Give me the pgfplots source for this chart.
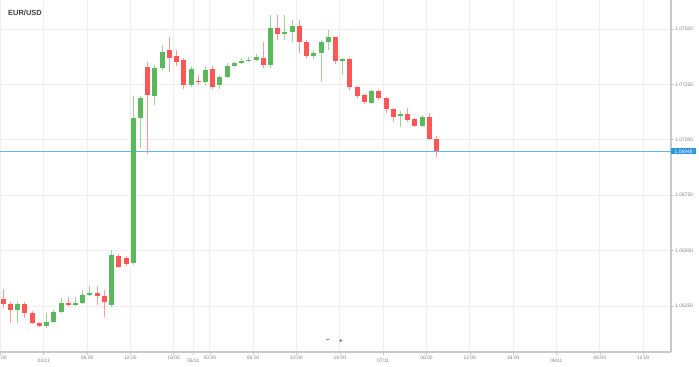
\documentclass[border=0pt]{standalone}
\usepackage{fontspec}
\setmainfont{Liberation Sans}
\usepackage{pgfplots}
\usepackage{pgfplotstable}
\pgfplotsset{compat=1.18}
\definecolor{cgreen}{RGB}{92,184,92}
\definecolor{cred}{RGB}{255,86,86}
\definecolor{pricecol}{RGB}{95,185,235}
\definecolor{pbox}{RGB}{45,150,220}
\definecolor{gridc}{RGB}{238,238,238}
\definecolor{axc}{RGB}{200,200,200}
\definecolor{labc}{RGB}{130,130,130}

\pgfplotstableread{
x o h l c
1 1.06282 1.06327 1.06241 1.06259
2 1.06259 1.06268 1.06174 1.06232
4 1.06259 1.06268 1.06196 1.06218
5 1.06218 1.06227 1.06169 1.06174
6 1.06174 1.06178 1.06155 1.06160
10 1.06263 1.06290 1.06250 1.06254
14 1.06309 1.06340 1.06254 1.06296
15 1.06296 1.06322 1.06200 1.06268
17 1.06476 1.06485 1.06421 1.06426
18 1.06467 1.06476 1.06430 1.06440
21 1.07330 1.07352 1.06936 1.07202
24 1.07405 1.07464 1.07307 1.07369
25 1.07378 1.07405 1.07333 1.07351
26 1.07360 1.07368 1.07229 1.07247
28 1.07267 1.07292 1.07247 1.07262
30 1.07319 1.07333 1.07229 1.07240
37 1.07368 1.07443 1.07323 1.07338
39 1.07503 1.07563 1.07450 1.07476
42 1.07515 1.07541 1.07390 1.07440
43 1.07440 1.07450 1.07368 1.07378
47 1.07463 1.07465 1.07342 1.07357
49 1.07363 1.07368 1.07225 1.07240
50 1.07237 1.07243 1.07190 1.07199
51 1.07202 1.07207 1.07163 1.07172
53 1.07222 1.07225 1.07180 1.07187
54 1.07187 1.07192 1.07121 1.07139
55 1.07138 1.07143 1.07082 1.07104
57 1.07115 1.07142 1.07082 1.07089
58 1.07092 1.07098 1.07059 1.07064
60 1.07104 1.07120 1.06999 1.07004
61 1.07004 1.07017 1.06921 1.06949
}\redt

\pgfplotstableread{
x o h l c
3 1.06232 1.06268 1.06174 1.06259
7 1.06160 1.06218 1.06151 1.06178
8 1.06178 1.06232 1.06174 1.06223
9 1.06223 1.06286 1.06218 1.06263
11 1.06254 1.06290 1.06250 1.06263
12 1.06263 1.06322 1.06259 1.06300
13 1.06300 1.06340 1.06296 1.06309
16 1.06254 1.06503 1.06245 1.06480
19 1.06444 1.07198 1.06435 1.07098
20 1.07098 1.07198 1.06963 1.07190
22 1.07199 1.07338 1.07157 1.07324
23 1.07324 1.07428 1.07315 1.07396
27 1.07247 1.07333 1.07238 1.07319
29 1.07262 1.07333 1.07247 1.07315
31 1.07247 1.07292 1.07229 1.07285
32 1.07285 1.07347 1.07280 1.07333
33 1.07333 1.07351 1.07328 1.07345
34 1.07345 1.07368 1.07342 1.07356
35 1.07356 1.07374 1.07351 1.07362
36 1.07362 1.07387 1.07356 1.07374
38 1.07338 1.07563 1.07323 1.07503
40 1.07476 1.07563 1.07450 1.07485
41 1.07485 1.07541 1.07443 1.07515
44 1.07378 1.07405 1.07363 1.07393
45 1.07390 1.07450 1.07262 1.07440
46 1.07440 1.07495 1.07405 1.07463
48 1.07357 1.07368 1.07292 1.07363
52 1.07165 1.07225 1.07160 1.07222
56 1.07107 1.07130 1.07059 1.07115
59 1.07064 1.07110 1.07059 1.07104
}\greent

\pgfplotstableread{
x p
0.543 1.06948
93.46 1.06948
}\pricet

\begin{document}
\begin{tikzpicture}
\begin{axis}[
  at={(0,0)}, anchor=north west,
  scale only axis, width=671bp, height=352bp,
  xmin=0.543, xmax=93.46, ymin=1.060423, ymax=1.076309,
  axis x line*=bottom, axis y line*=right,
  axis line style={axc, line width=1.3bp},
  clip=false,
  ytick={1.0625,1.065,1.0675,1.07,1.0725,1.075},
  yticklabels={1.06250,1.06500,1.06750,1.07000,1.07250,1.07500},
  xtick={0.6,6.6,12.6,18.6,24.6,27.3,29.6,35.6,41.6,47.6,53.6,59.6,65.6,71.6,77.6,83.6,89.6},
  xticklabels={18:00,{\mbox{}\\[1bp]03/11},06:00,12:00,18:00,{\mbox{}\\[1bp]05/11},00:00,06:00,12:00,18:00,{\mbox{}\\[1bp]07/11},06:00,12:00,18:00,{\mbox{}\\[1bp]08/11},06:00,12:00},
  xticklabel style={align=center, font=\fontsize{5}{5.5}\selectfont, text=labc, inner sep=1bp},
  yticklabel style={font=\fontsize{5}{6}\selectfont, text=labc, inner sep=1.5bp},
  tick align=outside, major tick length=2.5bp,
  tick style={axc, line width=0.6bp},
  grid=major, major grid style={gridc, line width=0.8bp},
]
% current price
\addplot[draw=pricecol, line width=1.4bp, mark=none, forget plot] table[x=x, y=p] {\pricet};
% wicks
\addplot[draw=none, no markers, forget plot, error bars/.cd, y dir=plus, y explicit, error mark=none,
  error bar style={draw=cred!60, line width=1bp, solid}]
  table[x=x, y=l, y error expr=\thisrow{h}-\thisrow{l}] {\redt};
\addplot[draw=none, no markers, forget plot, error bars/.cd, y dir=plus, y explicit, error mark=none,
  error bar style={draw=cgreen!60, line width=1bp, solid}]
  table[x=x, y=l, y error expr=\thisrow{h}-\thisrow{l}] {\greent};
% bodies
\addplot[draw=none, no markers, forget plot, error bars/.cd, y dir=plus, y explicit, error mark=none,
  error bar style={draw=cred, line width=5bp, solid}]
  table[x=x, y=c, y error expr=\thisrow{o}-\thisrow{c}] {\redt};
\addplot[draw=none, no markers, forget plot, error bars/.cd, y dir=plus, y explicit, error mark=none,
  error bar style={draw=cgreen, line width=5bp, solid}]
  table[x=x, y=o, y error expr=\thisrow{c}-\thisrow{o}] {\greent};
\node[anchor=west, fill=pbox, text=white, font=\fontsize{5}{6}\selectfont, inner sep=1.2bp, minimum width=25bp]
  at (axis cs:93.46,1.06948) {1.06948};
\node[anchor=west, font=\bfseries\fontsize{7.5}{9}\selectfont, text=black!75, inner sep=0pt]
  at (rel axis cs:0.0119,0.963) {EUR/USD};
\node[font=\fontsize{7}{8}\selectfont\bfseries, text=black!60, inner sep=0pt] at (rel axis cs:0.4888,0.031) {−};
\node[font=\fontsize{7}{8}\selectfont\bfseries, text=black!60, inner sep=0pt] at (rel axis cs:0.5082,0.031) {+};
\end{axis}
\pgfresetboundingbox
\path[use as bounding box] (0,0) rectangle (699bp,-367bp);
\end{tikzpicture}
\end{document}
